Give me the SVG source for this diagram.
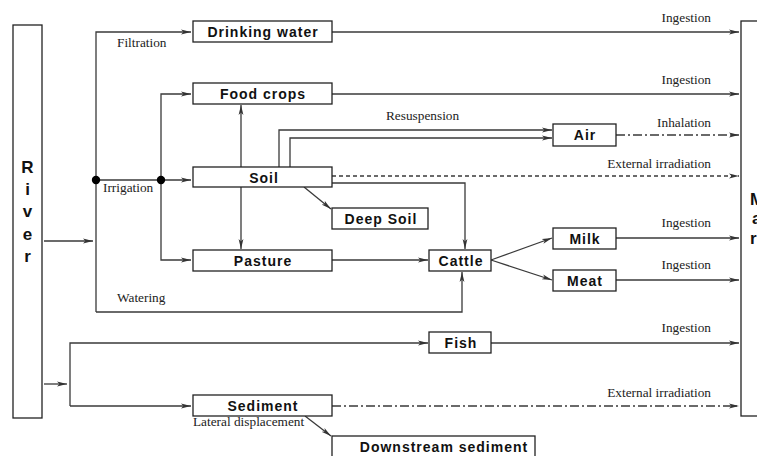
<svg xmlns="http://www.w3.org/2000/svg" width="757" height="456" viewBox="0 0 757 456">
<defs>
<marker id="ah" markerWidth="11" markerHeight="6" refX="10" refY="3" orient="auto" markerUnits="userSpaceOnUse"><path d="M0,0.6 L10,3 L0,5.4 L2.5,3 z" fill="#333"/></marker>
<style>
.box{fill:#fff;stroke:#222;stroke-width:1.3}
.nl{font-family:"Liberation Sans",Arial,sans-serif;font-weight:bold;font-size:14px;letter-spacing:1px;fill:#111;text-anchor:middle}
.big{font-family:"Liberation Sans",Arial,sans-serif;font-weight:bold;font-size:17px;fill:#111}
.lb{font-family:"Liberation Serif","Times New Roman",serif;font-size:13.3px;fill:#222}
.r{text-anchor:end}
.c{fill:none;stroke:#3a3a3a;stroke-width:1.3}
.a{marker-end:url(#ah)}
.dash{stroke-dasharray:4 3}
.dd{stroke-dasharray:9 3 2 3}
</style>
</defs>
<rect width="757" height="456" fill="#fff"/>
<g id="connectors">
<path class="c a" d="M44,241 H93"/>
<path class="c a" d="M96,312 V32 H191"/>
<path class="c a" d="M96,312 H462 V272"/>
<path class="c a" d="M96,180 H191"/>
<path class="c a" d="M161,180 V94 H191"/>
<path class="c a" d="M161,180 V260 H191"/>
<circle cx="96" cy="180" r="4.2" fill="#000"/>
<circle cx="161" cy="180" r="4.2" fill="#000"/>
<path class="c a" d="M332,32 H739"/>
<path class="c a" d="M332,94 H739"/>
<path class="c a" d="M241,167 V105"/>
<path class="c a" d="M241,187 V249"/>
<path class="c a" d="M279,167 V130 H552"/>
<path class="c a" d="M290,167 V138 H552"/>
<path class="c a dd" d="M616,135 H739"/>
<path class="c a dash" d="M332,176 H739"/>
<path class="c a" d="M332,183 H465 V249"/>
<path class="c a" d="M304,187 L331,209"/>
<path class="c a" d="M332,260 H428"/>
<path class="c a" d="M491,260 L552,238"/>
<path class="c a" d="M491,260 L552,280"/>
<path class="c a" d="M616,238 H739"/>
<path class="c a" d="M616,280 H739"/>
<path class="c a" d="M44,384 H67"/>
<path class="c a" d="M70,406 V343 H428"/>
<path class="c a" d="M70,406 H191"/>
<path class="c a" d="M491,343 H739"/>
<path class="c a dd" d="M332,406 H739"/>
<path class="c a" d="M305,416 L331,436"/>
</g>
<g id="labels">
<text class="lb" x="117" y="47">Filtration</text>
<text class="lb" x="103" y="192">Irrigation</text>
<text class="lb" x="117" y="302">Watering</text>
<text class="lb" x="386" y="120">Resuspension</text>
<text class="lb" x="193" y="426">Lateral displacement</text>
<text class="lb r" x="711" y="22">Ingestion</text>
<text class="lb r" x="711" y="84">Ingestion</text>
<text class="lb r" x="711" y="127">Inhalation</text>
<text class="lb r" x="711" y="168">External irradiation</text>
<text class="lb r" x="711" y="227">Ingestion</text>
<text class="lb r" x="711" y="269">Ingestion</text>
<text class="lb r" x="711" y="332">Ingestion</text>
<text class="lb r" x="711" y="397">External irradiation</text>
</g>
<g id="river">
<rect class="box" x="13" y="25" width="29" height="393"/>
<text class="big" text-anchor="middle" x="27.5" y="173">R</text>
<text class="big" text-anchor="middle" x="27.5" y="195">i</text>
<text class="big" text-anchor="middle" x="27.5" y="217">v</text>
<text class="big" text-anchor="middle" x="27.5" y="240">e</text>
<text class="big" text-anchor="middle" x="27.5" y="262">r</text>
</g>
<g id="man">
<rect class="box" x="741" y="21" width="30" height="395"/>
<text class="big" x="750" y="205">M</text>
<text class="big" x="752" y="224">a</text>
<text class="big" x="750" y="244">r</text>
</g>
<g id="drinking-water"><rect class="box" x="193" y="21" width="139" height="21"/><text class="nl" x="263" y="37">Drinking water</text></g>
<g id="food-crops"><rect class="box" x="193" y="83" width="139" height="21"/><text class="nl" x="263" y="99">Food crops</text></g>
<g id="air"><rect class="box" x="553" y="124" width="63" height="22"/><text class="nl" x="585" y="140">Air</text></g>
<g id="soil"><rect class="box" x="193" y="167" width="139" height="20"/><text class="nl" x="264" y="183">Soil</text></g>
<g id="deep-soil"><rect class="box" x="332" y="208" width="96" height="21"/><text class="nl" x="381" y="224">Deep Soil</text></g>
<g id="pasture"><rect class="box" x="193" y="250" width="139" height="21"/><text class="nl" x="263" y="266">Pasture</text></g>
<g id="cattle"><rect class="box" x="429" y="250" width="62" height="21"/><text class="nl" x="461" y="266">Cattle</text></g>
<g id="milk"><rect class="box" x="553" y="228" width="63" height="21"/><text class="nl" x="585" y="244">Milk</text></g>
<g id="meat"><rect class="box" x="553" y="270" width="63" height="21"/><text class="nl" x="585" y="286">Meat</text></g>
<g id="fish"><rect class="box" x="429" y="332" width="62" height="21"/><text class="nl" x="461" y="348">Fish</text></g>
<g id="sediment"><rect class="box" x="193" y="395" width="139" height="21"/><text class="nl" x="263" y="411">Sediment</text></g>
<g id="downstream-sediment"><rect class="box" x="332" y="436" width="203" height="22"/><text class="nl" x="444" y="452">Downstream sediment</text></g>
</svg>
